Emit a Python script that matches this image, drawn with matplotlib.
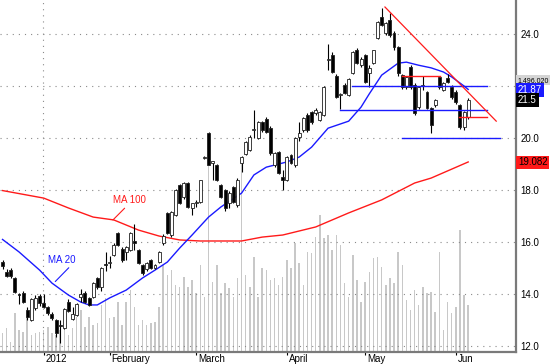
import matplotlib
matplotlib.use('Agg')
import matplotlib.pyplot as plt
from matplotlib.transforms import blended_transform_factory, ScaledTranslation

plt.rcParams['font.family'] = ['Liberation Sans', 'DejaVu Sans']

# ---------------- data ----------------
opens = [15.23, 14.85, 14.92, 14.60, 14.00, 14.04, 13.38, 13.00, 13.45, 13.92,
         13.65, 13.50, 13.23, 13.00, 12.80, 12.70, 13.70, 13.05, 13.20, 13.90,
         14.04, 13.85, 13.90, 14.60, 14.27, 15.15, 15.18, 15.50, 16.35, 15.75,
         15.60, 15.70, 16.05, 15.70, 15.10, 14.95, 15.30, 15.00, 15.25, 15.95,
         17.10, 16.27, 17.05, 18.20, 17.73, 18.27, 17.30, 17.50, 17.55, 19.25,
         20.20, 19.05, 18.96, 18.20, 18.00, 17.50, 18.10, 17.42, 19.05, 19.40,
         19.55, 20.30, 20.00, 20.60, 20.73, 20.40, 18.96, 19.45, 18.50, 18.40,
         19.35, 18.96, 20.04, 20.30, 20.88, 21.00, 20.96, 20.70, 20.88, 23.00,
         23.20, 22.40, 21.65, 22.04, 21.65, 22.50, 23.38, 22.80, 23.20, 22.50,
         22.90, 23.85, 24.65, 24.04, 24.54, 24.04, 23.50, 22.42, 21.96, 22.73,
         22.04, 21.19, 22.00, 21.77, 21.15, 21.27, 22.35, 21.85, 22.30, 21.96,
         21.77, 21.27, 20.42, 20.80]
highs = [15.30, 14.95, 15.00, 14.65, 14.05, 14.10, 13.50, 13.85, 13.95, 14.00,
         14.00, 13.55, 13.30, 13.05, 13.00, 13.45, 13.80, 13.50, 13.65, 14.20,
         14.10, 13.90, 14.45, 14.65, 15.05, 15.60, 15.45, 15.95, 16.40, 15.80,
         15.85, 16.40, 16.70, 15.75, 15.15, 15.25, 15.35, 15.15, 15.65, 16.30,
         17.15, 17.20, 18.05, 18.25, 18.30, 18.30, 17.50, 17.60, 18.40, 19.30,
         20.25, 19.12, 19.00, 18.25, 18.05, 17.95, 18.15, 18.45, 19.30, 19.90,
         20.10, 21.08, 20.65, 20.65, 20.80, 20.45, 19.45, 19.50, 18.77, 19.30,
         19.40, 20.05, 20.60, 20.80, 20.95, 21.05, 21.15, 21.05, 22.00, 23.60,
         23.30, 22.45, 21.75, 22.10, 22.30, 23.35, 23.45, 23.10, 23.25, 22.80,
         23.40, 24.50, 25.00, 24.45, 24.80, 24.10, 23.55, 22.45, 22.40, 22.80,
         22.10, 22.00, 22.40, 21.80, 21.20, 21.50, 22.40, 22.15, 22.45, 22.05,
         21.85, 21.30, 21.05, 21.55]
lows = [14.95, 14.65, 14.62, 14.05, 13.60, 13.65, 13.00, 12.95, 13.40, 13.55,
        13.45, 13.20, 13.00, 12.35, 12.10, 12.65, 13.30, 13.00, 13.15, 13.70,
        13.65, 13.55, 13.85, 14.20, 14.10, 14.90, 15.00, 15.45, 15.85, 15.25,
        15.30, 15.65, 15.70, 15.15, 14.75, 14.90, 14.95, 14.95, 15.20, 15.90,
        16.30, 16.20, 17.00, 17.45, 17.65, 17.30, 17.05, 17.35, 17.50, 19.20,
        18.95, 18.40, 18.35, 17.70, 17.20, 17.30, 17.50, 17.35, 18.70, 19.35,
        19.50, 20.00, 19.95, 20.25, 20.20, 19.35, 18.90, 18.60, 18.00, 18.35,
        19.00, 18.90, 19.90, 20.25, 20.25, 20.55, 20.90, 20.65, 20.85, 22.60,
        22.50, 21.55, 21.10, 21.70, 21.60, 22.45, 22.85, 22.75, 22.10, 21.96,
        22.85, 23.80, 24.30, 23.95, 23.90, 23.40, 22.40, 21.90, 21.90, 21.90,
        20.90, 21.10, 21.85, 21.10, 20.20, 21.20, 21.90, 21.80, 22.10, 21.50,
        21.30, 20.35, 20.30, 20.75]
closes = [15.08, 14.70, 14.70, 14.08, 13.95, 13.70, 13.12, 13.80, 13.85, 13.65,
          13.50, 13.27, 13.08, 12.50, 12.78, 13.42, 13.35, 13.23, 13.62, 14.00,
          13.70, 13.58, 14.42, 14.27, 15.00, 15.10, 15.25, 15.90, 15.90, 15.31,
          15.80, 16.35, 15.95, 15.20, 14.80, 15.20, 15.00, 15.10, 15.60, 16.25,
          16.35, 17.15, 18.00, 17.50, 18.27, 17.35, 17.50, 17.52, 18.38, 19.28,
          18.96, 19.10, 18.38, 17.73, 17.30, 17.90, 17.55, 18.40, 19.27, 19.85,
          20.04, 20.32, 20.60, 20.30, 20.25, 19.42, 19.42, 18.65, 18.40, 19.27,
          19.04, 20.00, 20.20, 20.77, 20.30, 20.60, 21.08, 21.00, 21.96, 23.05,
          22.55, 21.58, 21.70, 21.73, 22.27, 23.30, 22.88, 23.04, 22.15, 22.70,
          23.38, 24.46, 24.35, 24.42, 23.96, 23.50, 22.50, 21.96, 22.35, 21.96,
          20.96, 21.96, 22.02, 21.15, 20.50, 21.46, 21.96, 22.10, 22.15, 21.58,
          21.38, 20.42, 21.00, 21.46]
volumes_m = [0.59, 0.75, 0.33, 1.23, 0.70, 0.65, 1.12, 0.54, 0.59, 0.65,
             0.70, 0.80, 0.59, 0.54, 0.70, 0.96, 0.54, 0.75, 1.12, 1.34,
             0.80, 1.12, 0.86, 0.91, 1.49, 1.71, 1.07, 1.12, 1.60, 0.86,
             1.60, 1.97, 1.44, 0.86, 1.02, 0.86, 0.91, 0.96, 1.44, 2.77,
             2.45, 2.61, 2.13, 2.08, 2.39, 2.08, 2.29, 1.87, 2.77, 1.76,
             6.10, 2.24, 2.77, 1.87, 2.18, 2.03, 1.76, 2.34, 6.10, 2.45,
             2.08, 3.03, 1.76, 2.66, 2.61, 2.29, 2.34, 2.13, 2.39, 2.93,
             2.66, 3.46, 2.82, 2.13, 3.19, 3.14, 3.67, 4.36, 3.62, 3.72,
             3.24, 3.72, 3.40, 2.18, 1.76, 3.08, 2.29, 1.60, 2.24, 2.55,
             2.98, 3.03, 2.71, 2.13, 2.34, 2.18, 3.19, 2.77, 1.65, 1.34,
             1.97, 1.49, 2.08, 1.87, 1.92, 1.28, 3.19, 0.70, 1.60, 1.25,
             1.44, 3.88, 1.81, 1.496]

ma20_idx = [0, 4, 9, 12, 16, 19, 21, 23, 26, 30, 34, 37, 40, 43, 46, 50, 53,
            58, 61, 64, 69, 72, 75, 79, 84, 87, 89, 92, 96, 98, 101, 104, 107,
            109, 112, 113]
ma20_val = [16.10, 15.62, 14.92, 14.42, 13.96, 13.69, 13.58, 13.58, 13.85,
            14.15, 14.62, 14.92, 15.23, 15.77, 16.27, 16.96, 17.35, 17.88,
            18.58, 18.88, 19.08, 19.27, 19.65, 20.38, 20.65, 21.19, 21.70,
            22.42, 22.88, 22.92, 22.80, 22.70, 22.54, 22.35, 22.00, 21.87]
ma100_idx = [0, 10, 16, 22, 27, 33, 38, 43, 48, 58, 63, 68, 76, 84, 92, 100,
             104, 113]
ma100_val = [17.98, 17.69, 17.31, 16.96, 16.85, 16.46, 16.23, 16.08, 16.04,
             16.04, 16.19, 16.27, 16.58, 17.12, 17.62, 18.27, 18.46, 19.08]

month_idx = [10, 26, 47, 69, 88, 110]
month_labels = ['2012', 'February', 'March', 'April', 'May', 'Jun']
price_ticks = [12, 14, 16, 18, 20, 22, 24]
price_tick_labels = ['12.0', '14.0', '16.0', '18.0', '20.0', '', '24.0']

# user-drawn lines on the chart: (price, start index, end index)
blue_levels = [(22.0, 84.8, 117.6), (21.08, 81.9, 117.6), (20.0, 97.0, 120.8)]
red_levels = [(22.38, 97.0, 106.2), (20.8, 110.8, 117.6)]
red_trend_x = [92.8, 119.8]
red_trend_y = [25.04, 20.65]

last_volume_text = '1,496,020'
ma20_last_text = '21.87'
close_last_text = '21.5'
ma100_last_text = '19.082'

# ---------------- figure ----------------
BLUE = '#1a1aff'
RED = '#ff1a1a'
GRID = '#8a8a8a'

fig = plt.figure(figsize=(5.5, 3.64), dpi=100, facecolor='white')
rect = [0, 12 / 364, 516 / 550, 352 / 364]
axv = fig.add_axes(rect)
ax = fig.add_axes(rect)
axv.set_zorder(0)
ax.set_zorder(1)
ax.patch.set_visible(False)

xmin, xmax = -0.61, 124.6
n = len(closes)
idx = list(range(n))

# volume
axv.bar(idx, volumes_m, width=0.36, color='#c8c8c8', linewidth=0)
axv.set_xlim(xmin, xmax)
axv.set_ylim(0, 11.19)
axv.axis('off')

# grid
ax.set_xlim(xmin, xmax)
ax.set_ylim(11.77, 25.31)
for p in price_ticks:
    ax.axhline(p, color=GRID, lw=0.8, linestyle=(0, (1, 4.5)), zorder=0.5)
ax.axvline(month_idx[0] - 0.2, color=GRID, lw=0.8, linestyle=(0, (1, 4.5)), zorder=0.5)

# MA lines
ax.plot(ma100_idx, ma100_val, color=RED, lw=1.0, zorder=2)
ax.plot(ma20_idx, ma20_val, color=BLUE, lw=1.0, zorder=2)

# candles
for i in idx:
    o, h, l, c = opens[i], highs[i], lows[i], closes[i]
    ax.vlines(i, l, h, color='black', lw=0.8, zorder=3)
    lo, hi = min(o, c), max(o, c)
    body = max(hi - lo, 0.04)
    fc = 'white' if c >= o else 'black'
    ax.bar(i, body, bottom=lo, width=0.72, color=fc, edgecolor='#202020',
           linewidth=0.6, zorder=4)

# drawn lines
for p, a, b in blue_levels:
    ax.plot([a, b], [p, p], color=BLUE, lw=1.0, zorder=5)
for p, a, b in red_levels:
    ax.plot([a, b], [p, p], color=RED, lw=1.0, zorder=5)
ax.plot(red_trend_x, red_trend_y, color=RED, lw=0.9, zorder=5)

# MA labels
ax.annotate('MA 20', xy=(12.8, 14.48), xytext=(14.4, 15.31), color=BLUE,
            fontsize=7, ha='center', va='center', zorder=6,
            arrowprops=dict(arrowstyle='-', color=BLUE, lw=0.8,
                            relpos=(0.85, 0.0), shrinkA=0, shrinkB=0))
ax.annotate('MA 100', xy=(26.8, 16.85), xytext=(30.7, 17.6), color=RED,
            fontsize=7, ha='center', va='center', zorder=6,
            arrowprops=dict(arrowstyle='-', color=RED, lw=0.8,
                            relpos=(0.45, 0.0), shrinkA=0, shrinkB=0))

# spines
for s in ['top', 'left']:
    ax.spines[s].set_visible(False)
for s in ['right', 'bottom']:
    ax.spines[s].set_color('#7a7a7a')
    ax.spines[s].set_linewidth(1.6)

# y ticks on right
ax.yaxis.tick_right()
ax.set_yticks(price_ticks)
ax.set_yticklabels(price_tick_labels)
ax.tick_params(axis='y', length=0, pad=3, labelsize=7, colors='black')

# x ticks
ax.set_xticks(month_idx)
ax.set_xticklabels(month_labels, ha='left')
ax.tick_params(axis='x', length=2.5, width=0.8, pad=-1, labelsize=7,
               direction='out', colors='black')
for lab in ax.get_xticklabels():
    lab.set_transform(lab.get_transform() + ScaledTranslation(2 / 100, 0, fig.dpi_scale_trans))

# last-value boxes on right
tr = blended_transform_factory(ax.transAxes, ax.transData)
def box(y, txt, fc, tc, size=7, dx=2):
    ax.text(1.0 + dx / 516, y, txt, transform=tr, ha='left', va='center',
            fontsize=size, color=tc, clip_on=False, zorder=10,
            bbox=dict(boxstyle='square,pad=0.18', fc=fc, ec='none'))
box(22.23, last_volume_text, '#d4d4d4', 'black', size=5.0, dx=1)
box(21.85, ma20_last_text, '#1a1aff', 'white')
box(21.46, close_last_text, 'black', 'white')
box(19.06, ma100_last_text, '#ff1a1a', 'black')

fig.savefig('out.png', dpi=100, facecolor='white')
